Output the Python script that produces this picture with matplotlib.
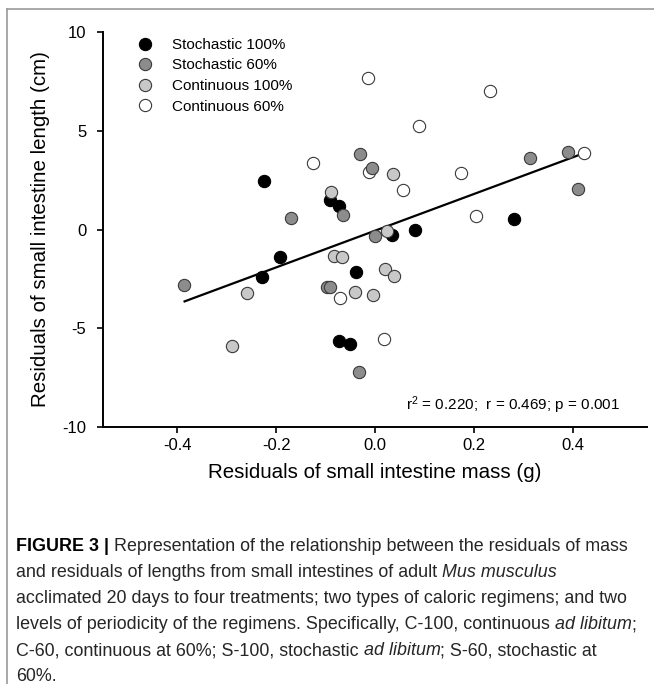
import matplotlib
matplotlib.use('Agg')
import matplotlib.pyplot as plt
from matplotlib.lines import Line2D

# ---------------- data ----------------
s100_x = [-0.224, -0.193, -0.228, -0.092, -0.072, 0.080, 0.034, -0.038, -0.072, -0.051, 0.282]
s100_y = [2.44, -1.38, -2.41, 1.50, 1.21, -0.02, -0.27, -2.14, -5.66, -5.79, 0.54]

s60_x = [-0.169, -0.387, -0.031, -0.006, -0.064, -0.001, -0.097, -0.091, -0.033, 0.314, 0.391, 0.411]
s60_y = [0.56, -2.83, 3.84, 3.12, 0.71, -0.34, -2.90, -2.92, -7.24, 3.60, 3.90, 2.07]

c100_x = [-0.259, -0.289, 0.037, -0.089, 0.025, -0.082, -0.066, 0.021, 0.038, -0.041, -0.005]
c100_y = [-3.20, -5.88, 2.79, 1.89, -0.10, -1.33, -1.40, -2.00, -2.36, -3.18, -3.32]

c60_x = [-0.126, -0.013, 0.173, 0.056, -0.070, 0.019, -0.015, 0.232, 0.089, 0.204, 0.423]
c60_y = [3.37, 2.89, 2.88, 2.00, -3.47, -5.56, 7.69, 7.00, 5.25, 0.68, 3.87]

fit_x = [-0.385, 0.423]
fit_y = [-3.64, 3.87]

labels = ["Stochastic 100%", "Stochastic 60%", "Continuous 100%", "Continuous 60%"]
x_ticks = [-0.4, -0.2, 0.0, 0.2, 0.4]
x_ticklabels = ["-0.4", "-0.2", "0.0", "0.2", "0.4"]
y_ticks = [-10, -5, 0, 5, 10]
y_ticklabels = ["-10", "-5", "0", "5", "10"]
stats_text = "r$^2$ = 0.220;  r = 0.469; p = 0.001"

caption_lines = [
    [("FIGURE 3 |", 'bold', 'normal'),
     (" Representation of the relationship between the residuals of mass", 'normal', 'normal')],
    [("and residuals of lengths from small intestines of adult ", 'normal', 'normal'),
     ("Mus musculus", 'normal', 'italic')],
    [("acclimated 20 days to four treatments; two types of caloric regimens; and two", 'normal', 'normal')],
    [("levels of periodicity of the regimens. Specifically, C-100, continuous ", 'normal', 'normal'),
     ("ad libitum", 'normal', 'italic'), (";", 'normal', 'normal')],
    [("C-60, continuous at 60%; S-100, stochastic ", 'normal', 'normal'),
     ("ad libitum", 'normal', 'italic'), ("; S-60, stochastic at", 'normal', 'normal')],
    [("60%.", 'normal', 'normal')],
]

# ---------------- style ----------------
plt.rcParams['font.family'] = ['Liberation Sans', 'DejaVu Sans']
plt.rcParams['mathtext.fontset'] = 'custom'
plt.rcParams['mathtext.rm'] = 'Liberation Sans'
plt.rcParams['mathtext.it'] = 'Liberation Sans:italic'

W, H = 654, 684
fig = plt.figure(figsize=(W / 100, H / 100), dpi=100)


def fx(px):
    return px / W


def fy(py):
    return 1 - py / H


ax = fig.add_axes([fx(103), fy(427), fx(647) - fx(103), fy(32) - fy(427)])
ax.set_xlim(-0.55, 0.55)
ax.set_ylim(-10, 10)

edge = '#3a3a3a'
ms = 78
colors = ['#000000', '#8c8c8c', '#c8c8c8', '#ffffff']

ax.plot(fit_x, fit_y, color='black', lw=1.6, zorder=2)
ax.scatter(c60_x, c60_y, s=ms, c=colors[3], edgecolors=edge, linewidths=0.8, zorder=3)
ax.scatter(s100_x, s100_y, s=ms, c=colors[0], edgecolors='black', linewidths=0.8, zorder=4)
ax.scatter(c100_x, c100_y, s=ms, c=colors[2], edgecolors=edge, linewidths=0.8, zorder=5)
ax.scatter(s60_x, s60_y, s=ms, c=colors[1], edgecolors=edge, linewidths=0.8, zorder=6)

for sp in ['top', 'right']:
    ax.spines[sp].set_visible(False)
for sp in ['left', 'bottom']:
    ax.spines[sp].set_linewidth(1.4)

ax.set_xticks(x_ticks)
ax.set_xticklabels(x_ticklabels)
ax.set_yticks(y_ticks)
ax.set_yticklabels(y_ticklabels)
ax.tick_params(direction='out', length=4, width=1.2, labelsize=12)
ax.tick_params(axis='y', pad=8)
ax.tick_params(axis='x', pad=4)

ax.set_xlabel("Residuals of small intestine mass (g)", fontsize=14.8, labelpad=7)
ax.set_ylabel("Residuals of small intestine length (cm)", fontsize=14.8, labelpad=9)

handles = [Line2D([], [], marker='o', linestyle='none', markersize=8.8,
                  markerfacecolor=c, markeredgecolor=(edge if c != '#000000' else 'black'),
                  markeredgewidth=0.8) for c in colors]
ax.legend(handles, labels, loc='upper left', bbox_to_anchor=(0.064, 0.985),
          frameon=False, fontsize=11, handlelength=1.0, handletextpad=1.25,
          labelspacing=0.43, borderpad=0, borderaxespad=0)

ax.text(0.951, 0.055, stats_text, transform=ax.transAxes, ha='right', va='center',
        fontsize=11)

# ---------------- frame ----------------
frame_col = '#9a9a9a'
fig.add_artist(Line2D([fx(7), fx(7)], [fy(9), 0], transform=fig.transFigure,
                      color=frame_col, lw=1.2))
fig.add_artist(Line2D([fx(7), 1], [fy(9), fy(9)], transform=fig.transFigure,
                      color=frame_col, lw=1.2))

# ---------------- caption ----------------
cap_fs = 12.85
cap_col = '#262626'
y0 = 555
dy = 26.0
for i, parts in enumerate(caption_lines):
    prev = None
    for (s, w, st) in parts:
        col = 'black' if w == 'bold' else cap_col
        if prev is None:
            prev = fig.text(fx(16), fy(y0 + i * dy), s, fontsize=cap_fs, fontweight=w,
                            fontstyle=st, color=col, ha='left', va='bottom')
        else:
            prev = ax.annotate(s, xy=(1, 0), xycoords=prev, ha='left', va='bottom',
                               fontsize=cap_fs, fontweight=w, fontstyle=st, color=col,
                               annotation_clip=False)

fig.savefig('out.png', dpi=100)
